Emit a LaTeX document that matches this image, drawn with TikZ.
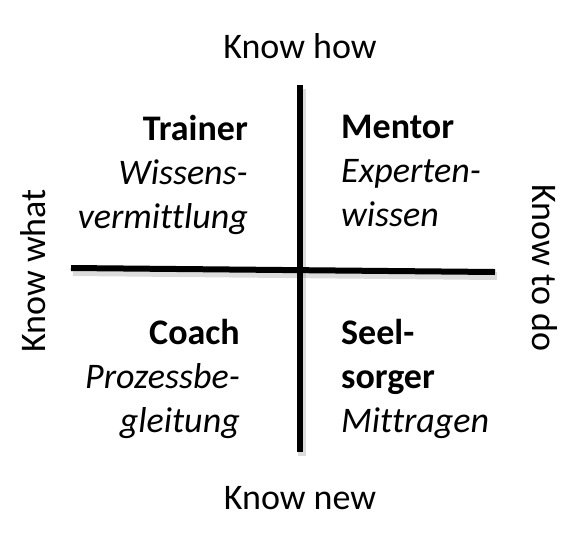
\documentclass[tikz,border=0pt]{standalone}
\usepackage{fontspec}
\setmainfont[Ligatures=NoCommon]{Carlito}
\usepackage{xcolor}
\usepackage{tikz}
\usetikzlibrary{positioning}
\definecolor{axisshadow}{HTML}{9A9A9A}

\begin{document}
\begin{tikzpicture}[
  x=1pt, y=-1pt,
  lbl/.style={inner sep=0pt, font=\fontsize{36}{44}\selectfont},
  role/.style={lbl, align=left},
  roleleft/.style={lbl, align=right},
  axis/.style={line width=6pt, black},
  axisglow/.style={line width=8pt, axisshadow, opacity=0.35}
]
\useasboundingbox (0,0) rectangle (586,544);
% axes
\coordinate (west) at (71,268);
\coordinate (east) at (495,272);
\coordinate (north) at (300,85);
\coordinate (south) at (300,452);
\draw[axisglow, transform canvas={shift={(2pt,-4pt)}}] (west) -- (east);
\draw[axisglow, transform canvas={shift={(2pt,-4pt)}}] (north) -- (south);
\draw[axis] (west) -- (east);
\draw[axis] (north) -- (south);
% axis labels
\node[lbl, anchor=base] (knowhow) at (300,58) {Know how};
\node[lbl, anchor=base] (knownew) at (300,509) {Know new};
\node[lbl, rotate=90] (knowwhat) at (33,271) {Know what};
\node[lbl, rotate=-90] (knowtodo) at (545,268) {Know to do};
% quadrants
\node[roleleft, anchor=north east] (trainer) at (248,115)
     {\textbf{Trainer}\\\textit{Wissens-}\\\textit{vermittlung}};
\node[role, anchor=north west] (mentor) at (341,115)
     {\textbf{Mentor}\\\textit{Experten-}\\\textit{wissen}};
\node[roleleft, anchor=north east] (coach) at (240,319)
     {\textbf{Coach}\\\textit{Prozessbe-}\\\textit{gleitung}};
\node[role, anchor=north west] (seelsorger) at (341,319)
     {\textbf{Seel-}\\\textbf{sorger}\\\textit{Mittragen}};
\end{tikzpicture}
\end{document}
